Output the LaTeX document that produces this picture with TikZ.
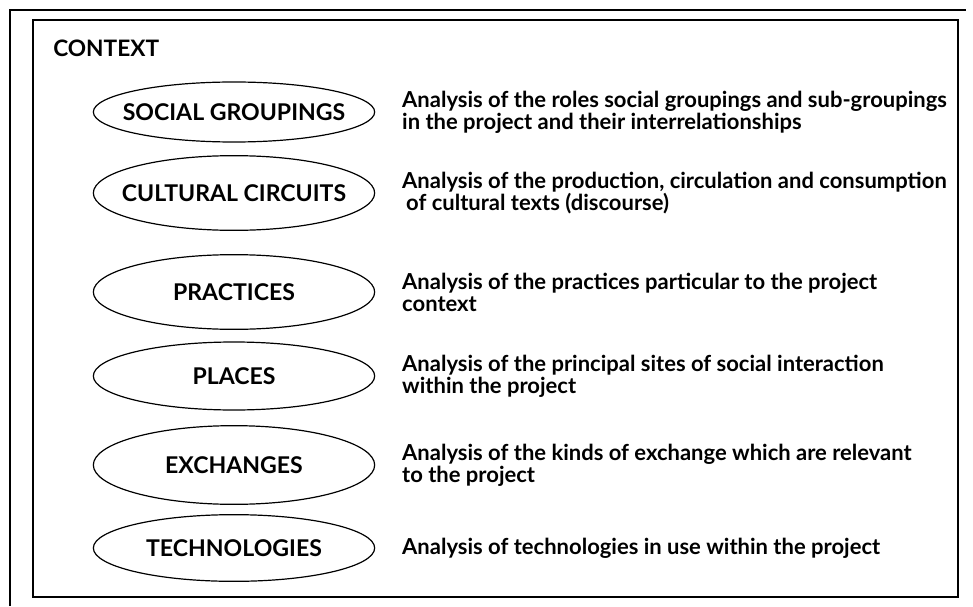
\documentclass[tikz,border=0pt]{standalone}
\usepackage{fontspec}
\setmainfont{Lato}
\usepackage{tikz}
\usetikzlibrary{shapes.geometric, positioning}
\tikzstyle{area} = [ellipse, draw=black, line width=0.9pt, minimum width=211pt, inner sep=0pt, font=\fontsize{17.3}{19}\selectfont\bfseries]
\tikzstyle{note} = [align=left, inner sep=0pt, font=\fontsize{16.5}{16.5}\selectfont\bfseries]
\newcommand{\arealabel}[1]{\makebox[0pt]{#1}}

\begin{document}
\begin{tikzpicture}[x=0.75pt,y=-0.75pt]
    \useasboundingbox (0,0) rectangle (973,606);

    % Frame
    \draw [line width=0.8pt] (10,606) -- (10,10) -- (966,10);
    \draw [line width=1.2pt] (33,20) rectangle (958,597);
    \node (context) [anchor=west, inner sep=0pt, font=\fontsize{17}{19}\selectfont\bfseries] at (53,48) {CONTEXT};

    % Nodes
    \node (social) [area, minimum height=45pt] at (234,112) {\arealabel{SOCIAL GROUPINGS}};
    \node (cultural) [area, minimum height=56pt] at (234,193) {\arealabel{CULTURAL CIRCUITS}};
    \node (practices) [area, minimum height=56pt] at (234,292) {\arealabel{PRACTICES}};
    \node (places) [area, minimum height=51pt] at (234,376) {\arealabel{PLACES}};
    \node (exchanges) [area, minimum height=59pt] at (234,465) {\arealabel{EXCHANGES}};
    \node (technologies) [area, minimum height=50pt] at (234,548) {\arealabel{TECHNOLOGIES}};

    % Descriptions
    \node (socialnote) [note, right=20pt of social] {Analysis of the roles social groupings and sub-groupings\\in the project and their interrelationships};
    \node (culturalnote) [note, right=20pt of cultural] {Analysis of the production, circulation and consumption\\\hspace*{3pt}of cultural texts (discourse)};
    \node (practicesnote) [note, right=20pt of practices] {Analysis of the practices particular to the project\\context};
    \node (placesnote) [note, right=20pt of places] {Analysis of the principal sites of social interaction\\within the project};
    \node (exchangesnote) [note, right=20pt of exchanges] {Analysis of the kinds of exchange which are relevant\\to the project};
    \node (technologiesnote) [note, right=20pt of technologies] {Analysis of technologies in use within the project};

\end{tikzpicture}
\end{document}
